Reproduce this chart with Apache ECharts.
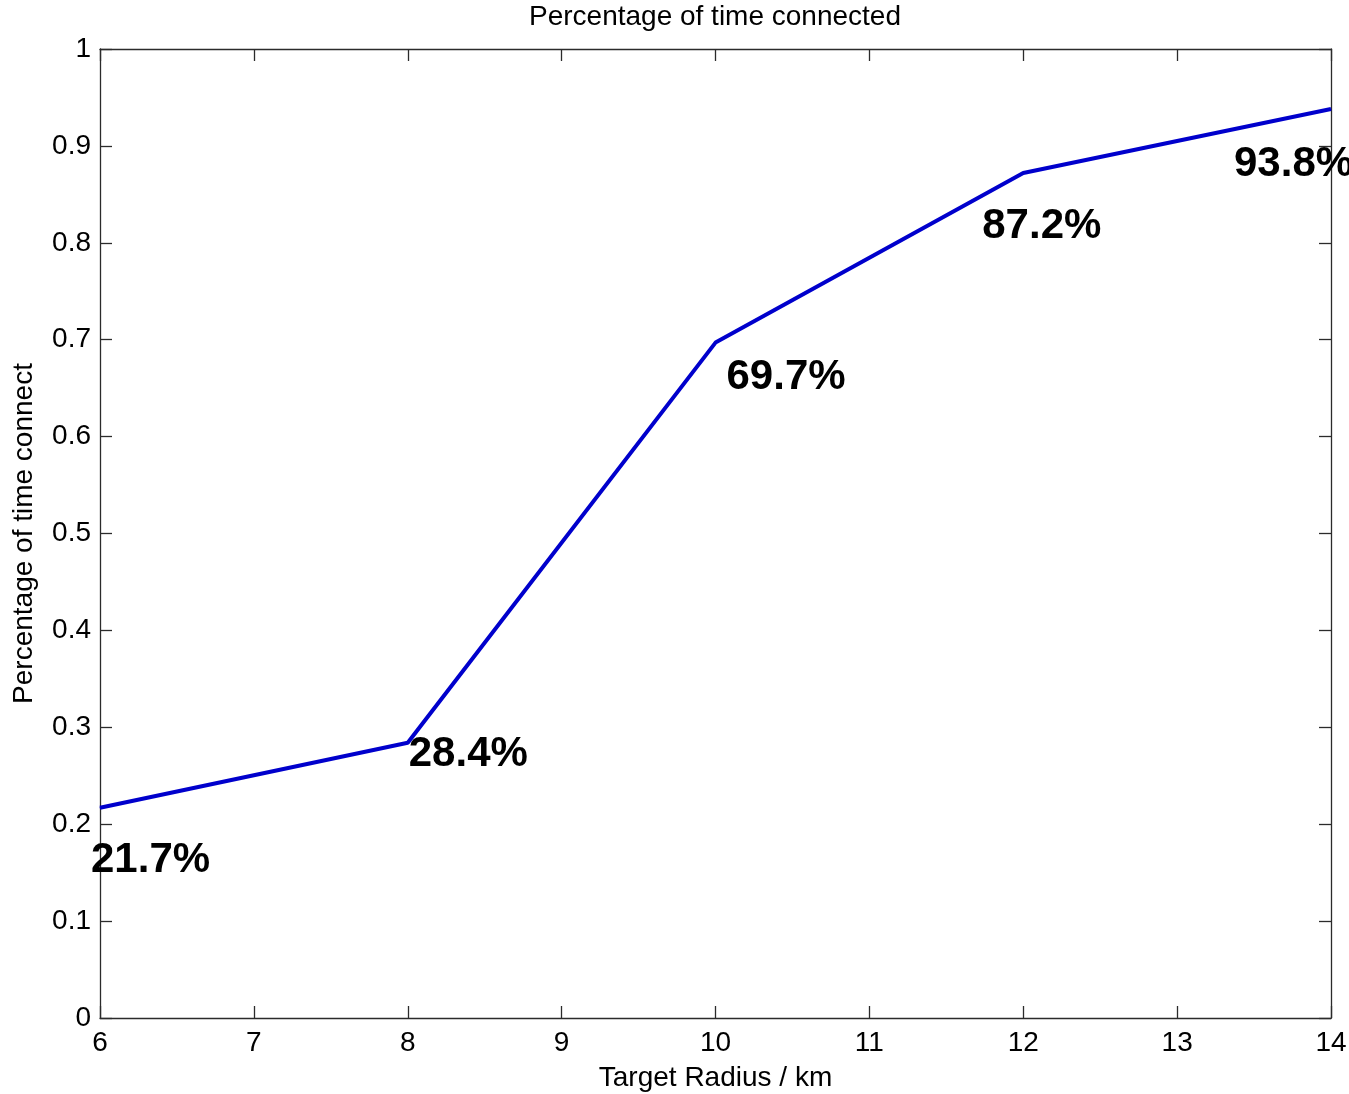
<!DOCTYPE html>
<html>
<head>
<meta charset="utf-8">
<script src="https://cdn.jsdelivr.net/npm/echarts@6/dist/echarts.min.js"></script>
<style>
  html, body { margin: 0; padding: 0; background: #fff; }
  #chart { width: 1349px; height: 1094px; }
</style>
</head>
<body>
<div id="chart"></div>
<script>
// Target radius (km) and fraction of time the link stays connected
const radiusKm = [6, 8, 10, 12, 14];
const connectedFraction = [0.217, 0.284, 0.697, 0.872, 0.938];
const valueLabels = ['21.7%', '28.4%', '69.7%', '87.2%', '93.8%'];
// where each annotation sits relative to its point (px)
const labelOffsets = [[-9, 53], [1, 12], [11, 35], [-41, 53], [-97, 55]];

const FONT = '"Liberation Sans", Arial, sans-serif';
const AXIS_COLOR = '#2b2b2b';
const TEXT_SIZE = 28;

const chart = echarts.init(document.getElementById('chart'), null, { renderer: 'canvas' });

const seriesData = radiusKm.map((x, i) => ({
  value: [x, connectedFraction[i]],
  label: { offset: labelOffsets[i], formatter: valueLabels[i] }
}));

const boxAxisX = {
  type: 'value', min: 6, max: 14, interval: 1,
  axisLine: { show: true, onZero: false, lineStyle: { color: AXIS_COLOR, width: 1.3 } },
  axisTick: { show: true, inside: true, length: 12, lineStyle: { color: AXIS_COLOR, width: 1.3 } },
  splitLine: { show: false }
};
const boxAxisY = {
  type: 'value', min: 0, max: 1, interval: 0.1,
  axisLine: { show: true, onZero: false, lineStyle: { color: AXIS_COLOR, width: 1.3 } },
  axisTick: { show: true, inside: true, length: 12, lineStyle: { color: AXIS_COLOR, width: 1.3 } },
  splitLine: { show: false }
};

chart.setOption({
  backgroundColor: '#ffffff',
  animation: false,
  // title centred over the plot box rather than the whole canvas
  title: {
    text: 'Percentage of time connected',
    left: 529,
    top: 3,
    padding: 0,
    textStyle: { fontFamily: FONT, fontSize: TEXT_SIZE, fontWeight: 'normal', color: '#000' }
  },
  grid: { left: 100, right: 18, top: 49, bottom: 76, containLabel: false, outerBoundsMode: 'none' },
  xAxis: [
    Object.assign({}, boxAxisX, {
      position: 'bottom',
      name: 'Target Radius / km',
      nameLocation: 'middle',
      nameGap: 46,
      nameTextStyle: { fontFamily: FONT, fontSize: TEXT_SIZE, color: '#000' },
      axisLabel: { show: true, margin: 11, fontFamily: FONT, fontSize: TEXT_SIZE, color: '#000' }
    }),
    Object.assign({}, boxAxisX, {
      position: 'top',
      axisLabel: { show: false }
    })
  ],
  yAxis: [
    Object.assign({}, boxAxisY, {
      position: 'left',
      name: 'Percentage of time connect',
      nameLocation: 'middle',
      nameGap: 62,
      nameTextStyle: { fontFamily: FONT, fontSize: TEXT_SIZE, color: '#000' },
      axisLabel: { show: true, margin: 9, fontFamily: FONT, fontSize: TEXT_SIZE, color: '#000' }
    }),
    Object.assign({}, boxAxisY, {
      position: 'right',
      axisLabel: { show: false }
    })
  ],
  series: [{
    type: 'line',
    xAxisIndex: 0,
    yAxisIndex: 0,
    data: seriesData,
    showSymbol: true,
    symbol: 'circle',
    symbolSize: 1,
    itemStyle: { color: '#0000cc' },
    lineStyle: { color: '#0000cc', width: 4 },
    label: {
      show: true,
      position: 'inside',
      align: 'left',
      verticalAlign: 'middle',
      fontFamily: FONT,
      fontSize: 42,
      fontWeight: 'bold',
      color: '#000'
    },
    emphasis: { disabled: true },
    clip: false
  }]
});
</script>
</body>
</html>
